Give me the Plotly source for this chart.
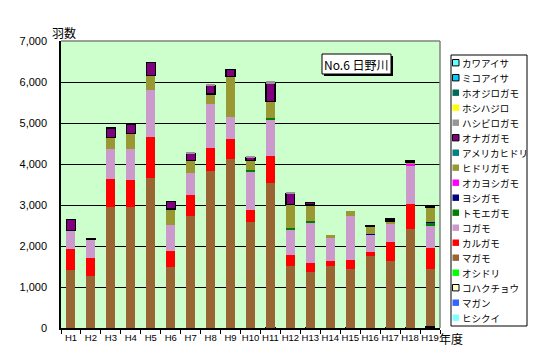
import plotly.graph_objects as go

years = ["H1", "H2", "H3", "H4", "H5", "H6", "H7", "H8", "H9", "H10",
         "H11", "H12", "H13", "H14", "H15", "H16", "H17", "H18", "H19"]

# species, bottom of stack first
hishikui     = [0] * 19
magan        = [0] * 19
kohakucho    = [0, 0, 0, 0, 0, 0, 0, 0, 0, 0, 10, 0, 10, 0, 10, 0, 10, 10, 40]
oshidori     = [0] * 19
magamo       = [1410, 1260, 2950, 2950, 3670, 1480, 2730, 3830, 4120, 2580,
                3530, 1510, 1350, 1510, 1420, 1750, 1620, 2400, 1400]
karugamo     = [510, 440, 690, 665, 1000, 390, 513, 563, 490, 294,
                660, 270, 220, 120, 220, 100, 464, 611, 514]
kogamo       = [465, 465, 733, 758, 1124, 636, 531, 1075, 538, 953,
                897, 611, 1000, 570, 1076, 423, 440, 954, 538]
tomoegamo    = [0, 0, 0, 0, 0, 0, 0, 0, 0, 20, 20, 50, 20, 0, 0, 0, 0, 0, 70]
yoshigamo    = [0, 0, 0, 0, 0, 0, 0, 0, 0, 0, 0, 0, 0, 0, 0, 20, 0, 0, 30]
okayoshigamo = [0, 0, 0, 0, 0, 0, 0, 0, 0, 0, 0, 0, 0, 0, 0, 0, 0, 25, 0]
hidorigamo   = [0, 0, 276, 374, 374, 399, 308, 238, 978, 230,
                411, 570, 400, 60, 122, 175, 74, 50, 360]
amerikahidori = [0] * 19
onagagamo    = [261, 15, 230, 230, 304, 180, 181, 203, 188, 83,
                432, 279, 60, 0, 0, 20, 49, 30, 40]
hashibirogamo = [0, 0, 0, 0, 0, 0, 20, 30, 0, 30, 60, 30, 0, 0, 0, 0, 0, 0, 0]
hoshihajiro  = [0] * 19
hoojirogamo  = [0] * 19
mikoaisa     = [0] * 19
kawaaisa     = [0] * 19

series = [
    ("ヒシクイ", hishikui, "#80FFFF", None),
    ("マガン", magan, "#3366FF", None),
    ("コハクチョウ", kohakucho, "#FFFFCC", "black"),
    ("オシドリ", oshidori, "#00FF00", None),
    ("マガモ", magamo, "#996633", None),
    ("カルガモ", karugamo, "#FF0000", None),
    ("コガモ", kogamo, "#CC99CC", None),
    ("トモエガモ", tomoegamo, "#008000", None),
    ("ヨシガモ", yoshigamo, "#000080", None),
    ("オカヨシガモ", okayoshigamo, "#FF00FF", None),
    ("ヒドリガモ", hidorigamo, "#999933", None),
    ("アメリカヒドリ", amerikahidori, "#008080", None),
    ("オナガガモ", onagagamo, "#800080", "black"),
    ("ハシビロガモ", hashibirogamo, "#969696", None),
    ("ホシハジロ", hoshihajiro, "#FFFF00", None),
    ("ホオジロガモ", hoojirogamo, "#006A5A", None),
    ("ミコアイサ", mikoaisa, "#00CCFF", "black"),
    ("カワアイサ", kawaaisa, "#66FFFF", "black"),
]

fig = go.Figure()
for name, vals, color, border in series:
    y = [v if v else None for v in vals]
    fig.add_trace(go.Bar(
        x=years, y=y, name=name, marker_color=color,
        marker_line_color=border if border else color,
        marker_line_width=1.2 if border else 0,
        showlegend=False,
    ))

L, R, T, B = 61, 105, 41, 32
W, H = 545, 360
PW, PH = W - L - R, H - T - B


def px(x):
    return (x - L) / PW


def py(y):
    return (H - B - y) / PH


shapes = []
annotations = []

# plot border (top/right grey)
shapes.append(dict(type="line", xref="paper", yref="paper", x0=0, x1=1, y0=1, y1=1,
                   line=dict(color="#808080", width=1.5), layer="above"))
shapes.append(dict(type="line", xref="paper", yref="paper", x0=1, x1=1, y0=0, y1=1,
                   line=dict(color="#808080", width=1.5), layer="above"))

# title box with shadow
shapes.append(dict(type="rect", xref="paper", yref="paper",
                   x0=px(324), x1=px(393), y0=py(76), y1=py(56),
                   fillcolor="black", line=dict(width=0), layer="above"))
shapes.append(dict(type="rect", xref="paper", yref="paper",
                   x0=px(322), x1=px(391), y0=py(74), y1=py(54),
                   fillcolor="white", line=dict(color="black", width=1), layer="above"))
annotations.append(dict(text="No.6 日野川", xref="paper", yref="paper",
                        x=px(356.5), y=py(64), showarrow=False,
                        xanchor="center", yanchor="middle",
                        font=dict(family="Noto Sans CJK JP", size=12, color="black")))

# legend (manual, top entry first)
shapes.append(dict(type="rect", xref="paper", yref="paper",
                   x0=px(451), x1=px(527), y0=py(326), y1=py(55),
                   fillcolor="white", line=dict(color="black", width=1), layer="above"))
for i, (name, vals, color, border) in enumerate(reversed(series)):
    cy = 62.7 + i * 15.0
    shapes.append(dict(type="rect", xref="paper", yref="paper",
                       x0=px(452.5), x1=px(459), y0=py(cy + 3.2), y1=py(cy - 3.2),
                       fillcolor=color,
                       line=dict(color="black" if border else color, width=1 if border else 0),
                       layer="above"))
    annotations.append(dict(text=name, xref="paper", yref="paper",
                            x=px(460), y=py(cy), showarrow=False,
                            xanchor="left", yanchor="middle",
                            font=dict(family="Noto Sans CJK JP", size=9.5, color="black")))

# axis titles
annotations.append(dict(text="羽数", xref="paper", yref="paper", x=px(50), y=py(32),
                        showarrow=False, xanchor="left", yanchor="middle",
                        font=dict(family="Noto Sans CJK JP", size=12, color="black")))
annotations.append(dict(text="年度", xref="paper", yref="paper", x=px(437), y=py(338),
                        showarrow=False, xanchor="left", yanchor="middle",
                        font=dict(family="Noto Sans CJK JP", size=12, color="black")))

fig.update_layout(
    width=W, height=H,
    margin=dict(l=L, r=R, t=T, b=B, pad=0),
    barmode="stack", bargap=0.55,
    paper_bgcolor="white", plot_bgcolor="#CCFFCC",
    showlegend=False,
    shapes=shapes, annotations=annotations,
    font=dict(family="Liberation Sans", color="black"),
    xaxis=dict(showline=True, linecolor="black", linewidth=1.5,
               ticks="outside", tickson="boundaries", ticklen=4, tickcolor="black",
               tickangle=0,
               tickfont=dict(size=9.5, family="Liberation Sans"),
               showgrid=False, fixedrange=True),
    yaxis=dict(range=[0, 7000], dtick=1000, tickformat=",d",
               showline=True, linecolor="black", linewidth=1.5,
               gridcolor="black", gridwidth=1, zeroline=False,
               ticks="", ticklabelstandoff=10,
               tickfont=dict(size=11, family="Liberation Sans"), fixedrange=True),
)

fig.write_html("out.html", config={"displayModeBar": False},
               post_script="document.body.style.margin='0';document.body.style.overflow='hidden';")
